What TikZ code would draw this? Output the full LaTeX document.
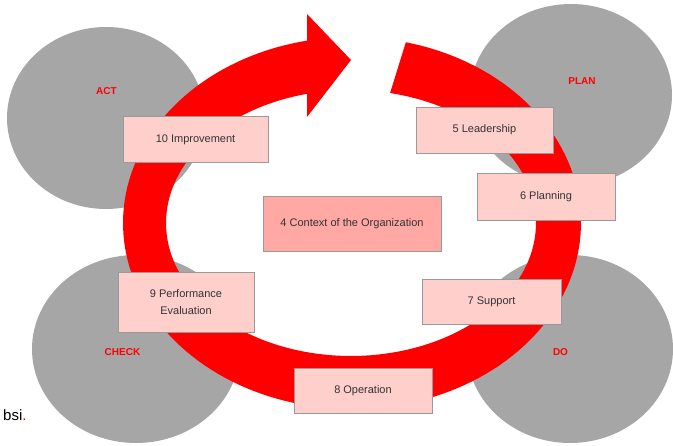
\documentclass[tikz,border=0pt]{standalone}
\usepackage{fontspec}
\setmainfont{Liberation Sans}
\tikzset{
  phase/.style={fill=phasegrey,draw=none},
  phaselabel/.style={text=red,font=\fontsize{10}{11}\selectfont\bfseries,inner sep=0pt},
  clause/.style={fill=clausepink,draw=edgegrey,line width=0.8pt,inner sep=0pt,align=center,text=textgrey,font=\fontsize{11}{17}\selectfont},
}
\definecolor{phasegrey}{HTML}{A6A6A6}
\definecolor{clausepink}{HTML}{FFCFCB}
\definecolor{corepink}{HTML}{FFA8A4}
\definecolor{edgegrey}{HTML}{9A9A9A}
\definecolor{textgrey}{HTML}{333333}
\begin{document}
\begin{tikzpicture}[x=1pt,y=-1pt]
\useasboundingbox (0,0) rectangle (673,446);
\fill[white] (0,0) rectangle (673,446);
% phase discs
\fill[phase] (106,118) ellipse [x radius=99pt,y radius=91pt];
\fill[phase] (571,95) ellipse [x radius=101pt,y radius=91pt];
\fill[phase] (136,349) ellipse [x radius=104pt,y radius=94pt];
\fill[phase] (570,349) ellipse [x radius=103pt,y radius=94pt];
% ring arrow
\fill[red]
  plot[domain=76.4:-258.7,samples=160] ({352+229*cos(\x)},{223-186*sin(\x)})
  -- (307,14) -- (351,60) -- (307,117) -- (307,94)
  -- plot[domain=-256.2:77.8,samples=160] ({351+185*cos(\x)},{223-133*sin(\x)})
  -- cycle;
% labels on discs
\node[phaselabel] (act) at (106.5,91) {ACT};
\node[phaselabel] (plan) at (582,81) {PLAN};
\node[phaselabel] (check) at (122.5,352) {CHECK};
\node[phaselabel] (do) at (560.5,352) {DO};
% clause boxes
\node[clause,minimum width=145pt,minimum height=46pt] (c10) at (195.5,139.5) {10 Improvement};
\node[clause,minimum width=137pt,minimum height=46pt] (c5) at (484.5,130) {5 Leadership};
\node[clause,minimum width=138pt,minimum height=47pt] (c6) at (546,196.5) {6 Planning};
\node[clause,minimum width=139pt,minimum height=45pt] (c7) at (491.5,301.5) {7 Support};
\node[clause,minimum width=138pt,minimum height=45pt] (c8) at (363,390.5) {8 Operation};
\node[clause,minimum width=136pt,minimum height=60pt] (c9) at (186,302) {9 Performance\\Evaluation};
\node[clause,fill=corepink,minimum width=178pt,minimum height=55pt] (c4) at (352,223.5) {4 Context of the Organization};
% logo
\node[anchor=base west,inner sep=0pt,font=\fontsize{15}{16}\selectfont] (bsi) at (3,421) {bsi\textcolor{red}{.}};
\end{tikzpicture}
\end{document}
